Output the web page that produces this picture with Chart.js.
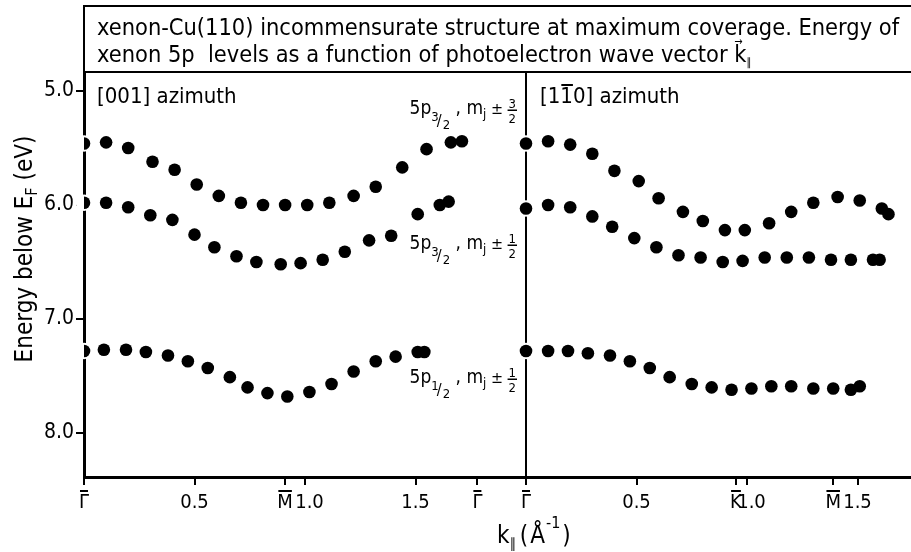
<!DOCTYPE html>
<html>
<head>
<meta charset="utf-8">
<script src="https://cdn.jsdelivr.net/npm/chart.js@4.4.1/dist/chart.umd.min.js"></script>
<style>
  html, body { margin: 0; padding: 0; background: #fff; }
  #wrap { position: relative; width: 911px; height: 552px; }
</style>
</head>
<body>
<div id="wrap"><canvas id="bands"></canvas></div>
<script>
// k|| (1/Å) and energy below E_F (eV).
// [001] azimuth
const k001Upper = [0.00, 0.10, 0.20, 0.31, 0.41, 0.51, 0.61, 0.71, 0.81, 0.91, 1.01, 1.11, 1.22, 1.32, 1.44, 1.55, 1.66, 1.71];
const e001Upper = [5.46, 5.45, 5.50, 5.62, 5.69, 5.82, 5.92, 5.98, 6.00, 6.00, 6.00, 5.98, 5.92, 5.84, 5.67, 5.51, 5.45, 5.44];
const k001Middle = [0.00, 0.10, 0.20, 0.30, 0.40, 0.50, 0.59, 0.69, 0.78, 0.89, 0.98, 1.08, 1.18, 1.29, 1.39, 1.51, 1.61, 1.65];
const e001Middle = [5.98, 5.98, 6.02, 6.09, 6.13, 6.26, 6.37, 6.45, 6.50, 6.52, 6.51, 6.48, 6.41, 6.31, 6.27, 6.08, 6.00, 5.97];
const k001Lower = [0.00, 0.09, 0.19, 0.28, 0.38, 0.47, 0.56, 0.66, 0.74, 0.83, 0.92, 1.02, 1.12, 1.22, 1.32, 1.41, 1.51, 1.54];
const e001Lower = [7.28, 7.27, 7.27, 7.29, 7.32, 7.37, 7.43, 7.51, 7.60, 7.65, 7.68, 7.64, 7.57, 7.46, 7.37, 7.33, 7.29, 7.29];

// [1-10] azimuth
const k110Upper = [0.00, 0.10, 0.20, 0.30, 0.40, 0.51, 0.60, 0.71, 0.80, 0.90, 0.99, 1.10, 1.20, 1.30, 1.41, 1.51, 1.61, 1.64];
const e110Upper = [5.46, 5.44, 5.47, 5.55, 5.70, 5.79, 5.94, 6.06, 6.14, 6.22, 6.22, 6.16, 6.06, 5.98, 5.93, 5.96, 6.03, 6.08];
const k110Middle = [0.00, 0.10, 0.20, 0.30, 0.39, 0.49, 0.59, 0.69, 0.79, 0.89, 0.98, 1.08, 1.18, 1.28, 1.38, 1.47, 1.57, 1.60];
const e110Middle = [6.03, 6.00, 6.02, 6.10, 6.19, 6.29, 6.37, 6.44, 6.46, 6.50, 6.49, 6.46, 6.46, 6.46, 6.48, 6.48, 6.48, 6.48];
const k110Lower = [0.00, 0.10, 0.19, 0.28, 0.38, 0.47, 0.56, 0.65, 0.75, 0.84, 0.93, 1.02, 1.11, 1.20, 1.30, 1.39, 1.47, 1.51];
const e110Lower = [7.28, 7.28, 7.28, 7.30, 7.32, 7.37, 7.43, 7.51, 7.57, 7.60, 7.62, 7.61, 7.59, 7.59, 7.61, 7.61, 7.62, 7.59];

// tick marks on the k axis of each panel (letters are symmetry points, drawn with a bar)
// the en space keeps "1.0" clear of the letter printed just left of it
const kTicks001 = [0, 0.5, 0.91, 1.0, 1.5, 1.78];
const kLabels001 = ['\u0393', '0.5', 'M', '\u20021.0', '1.5', '\u0393'];
const kTicks110 = [0, 0.5, 0.95, 1.0, 1.39, 1.5];
const kLabels110 = ['\u0393', '0.5', 'K', '\u20021.0', 'M', '1.5'];
const eTicks = [5.0, 6.0, 7.0, 8.0];

// the two panels share one k axis, [1-10] starts where [001] ends
const SPLIT = 2.0;
const K_END = SPLIT + 1.742;
const FONT = "'DejaVu Sans Condensed', 'Liberation Sans Narrow', 'DejaVu Sans', sans-serif";

Chart.defaults.font.family = FONT;
Chart.defaults.color = '#000';

function points(k, e, shift) {
    return k.map((v, i) => ({ x: v + shift, y: e[i] }));
}

function dots(data) {
    return {
        data: data,
        backgroundColor: '#000',
        borderWidth: 0,
        pointRadius: 6.3,
        pointHoverRadius: 6.3
    };
}

const allTicks = kTicks001.concat(kTicks110.map(v => v + SPLIT));
const allLabels = kLabels001.concat(kLabels110);

function drawLevel(ctx, right, base, jNum, mNum) {
    // "5p_{j/2} , m_j ± m/2", right aligned next to the divider
    const big = '19px ' + FONT, small = '13px ' + FONT, mid = '16px ' + FONT;
    ctx.font = big; const w5p = ctx.measureText('5p').width;
    const wComma = ctx.measureText(' , ').width;
    const wm = ctx.measureText('m').width;
    ctx.font = small; const wj = ctx.measureText(jNum).width;
    const w2 = ctx.measureText('2').width, wjj = ctx.measureText('j').width;
    const wn = ctx.measureText(mNum).width;
    ctx.font = mid; const wpm = ctx.measureText(' \u00b1 ').width;
    const wFrac = Math.max(wn, w2) + 2;
    const total = w5p + wj + 4 + w2 + wComma + wm + wjj + wpm + wFrac;
    let x = right - total;
    ctx.textAlign = 'left';
    ctx.font = big; ctx.fillText('5p', x, base); x += w5p;
    ctx.font = small; ctx.fillText(jNum, x, base + 7); x += wj;
    ctx.font = mid; ctx.fillText('/', x - 2, base + 12); x += 4;
    ctx.font = small; ctx.fillText('2', x, base + 15); x += w2;
    ctx.font = big; ctx.fillText(' , ', x, base); x += wComma;
    ctx.fillText('m', x, base); x += wm;
    ctx.font = small; ctx.fillText('j', x, base + 4); x += wjj;
    ctx.font = mid; ctx.fillText(' \u00b1 ', x, base); x += wpm;
    ctx.font = small;
    ctx.textAlign = 'center';
    ctx.fillText(mNum, x + wFrac / 2, base - 6);
    ctx.fillText('2', x + wFrac / 2, base + 9);
    ctx.fillRect(x, base - 4.5, wFrac, 1.5);
    ctx.textAlign = 'left';
}

const decorations = {
    id: 'decorations',
    beforeDatasetsDraw(chart) {
        const { ctx, chartArea, scales } = chart;
        ctx.save();
        // panel divider
        const xs = Math.round(scales.x.getPixelForValue(SPLIT));
        ctx.fillStyle = '#000';
        ctx.fillRect(xs - 1, chartArea.top, 2, chartArea.bottom - chartArea.top);
        // white halo round every dot, as in the print
        ctx.fillStyle = '#fff';
        chart.data.datasets.forEach((ds, i) => {
            chart.getDatasetMeta(i).data.forEach(pt => {
                ctx.beginPath();
                ctx.arc(pt.x, pt.y, 8.3, 0, Math.PI * 2);
                ctx.fill();
            });
        });
        ctx.restore();
    },
    afterDraw(chart) {
        const { ctx, chartArea, scales } = chart;
        const left = chartArea.left, right = chart.width;
        ctx.save();
        ctx.fillStyle = '#000';
        // title box
        ctx.fillRect(left - 1, 5, right - left + 1, 2);
        ctx.fillRect(left - 1, 5, 2, chartArea.top - 5);
        ctx.fillRect(left - 1, chartArea.top - 1, right - left + 1, 2);

        // bars over the symmetry point letters
        ctx.font = '20px ' + FONT;
        allLabels.forEach((lab, i) => {
            if (!/^[A-Z\u0393]$/.test(lab)) return;
            const cx = scales.x.getPixelForValue(allTicks[i]);
            const w = ctx.measureText(lab).width;
            ctx.fillRect(cx - w / 2 + 1, chartArea.bottom + 13, w - 2, 2);
        });

        // title text, sized to the printed line length
        const line1 = 'xenon-Cu(110) incommensurate structure at maximum coverage. Energy of';
        const line2 = 'xenon 5p  levels as a function of photoelectron wave vector ';
        ctx.font = '22px ' + FONT;
        const size = 22 * 801 / ctx.measureText(line1).width;
        ctx.font = size.toFixed(1) + 'px ' + FONT;
        ctx.textAlign = 'left';
        ctx.textBaseline = 'alphabetic';
        ctx.fillText(line1, 97, 35);
        ctx.fillText(line2, 97, 62);
        const kx = 97 + ctx.measureText(line2).width;
        ctx.fillText('k', kx, 62);
        const kw = ctx.measureText('k').width;
        ctx.font = '11px ' + FONT;
        ctx.fillText('\u2192', kx, 45);
        ctx.fillText('\u2225', kx + kw, 66);

        // panel names
        ctx.font = '22px ' + FONT;
        ctx.fillText('[001] azimuth', 97, 103);
        const x0 = scales.x.getPixelForValue(SPLIT) + 14;
        ctx.fillText('[1', x0, 103);
        const wa = ctx.measureText('[1').width, w1 = ctx.measureText('1').width;
        ctx.fillText('1', x0 + wa, 103);
        ctx.fillRect(x0 + wa + 1, 84, w1 - 1, 2);
        ctx.fillText('0] azimuth', x0 + wa + w1, 103);

        // level labels
        const xr = scales.x.getPixelForValue(SPLIT) - 9;
        drawLevel(ctx, xr, 114, '3', '3');
        drawLevel(ctx, xr, 249, '3', '1');
        drawLevel(ctx, xr, 383, '1', '1');

        // y axis title
        ctx.save();
        ctx.translate(32, 249);
        ctx.rotate(-Math.PI / 2);
        ctx.font = '24px ' + FONT;
        const a = 'Energy below E', b = ' (eV)';
        const wA = ctx.measureText(a).width, wB = ctx.measureText(b).width;
        ctx.font = '16px ' + FONT;
        const wF = ctx.measureText('F').width;
        let tx = -(wA + wF + wB) / 2;
        ctx.font = '24px ' + FONT;
        ctx.fillText(a, tx, 0); tx += wA;
        ctx.font = '16px ' + FONT;
        ctx.fillText('F', tx, 5); tx += wF;
        ctx.font = '24px ' + FONT;
        ctx.fillText(b, tx, 0);
        ctx.restore();

        // k axis title
        let px = 497;
        ctx.font = '24px ' + FONT;
        ctx.fillText('k', px, 543); px += ctx.measureText('k').width;
        ctx.font = '14px ' + FONT;
        ctx.fillText('\u2225', px, 548); px += ctx.measureText('\u2225').width + 4;
        ctx.font = '24px ' + FONT;
        ctx.fillText('(', px, 543); px += ctx.measureText('(').width + 2;
        ctx.fillText('\u00c5', px, 543); px += ctx.measureText('\u00c5').width + 1;
        ctx.font = '16px ' + FONT;
        ctx.fillText('-1', px, 528); px += ctx.measureText('-1').width + 2;
        ctx.font = '24px ' + FONT;
        ctx.fillText(')', px, 543);
        ctx.restore();
    }
};

new Chart(document.getElementById('bands'), {
    type: 'scatter',
    data: {
        datasets: [
            dots(points(k001Upper, e001Upper, 0)),
            dots(points(k001Middle, e001Middle, 0)),
            dots(points(k001Lower, e001Lower, 0)),
            dots(points(k110Upper, e110Upper, SPLIT)),
            dots(points(k110Middle, e110Middle, SPLIT)),
            dots(points(k110Lower, e110Lower, SPLIT))
        ]
    },
    options: {
        responsive: true,
        maintainAspectRatio: false,
        animation: false,
        devicePixelRatio: 1,
        layout: { autoPadding: false, padding: { top: 72, right: 0, bottom: 0, left: 0 } },
        plugins: {
            legend: { display: false },
            tooltip: { enabled: false }
        },
        scales: {
            x: {
                type: 'linear',
                min: 0,
                max: K_END,
                afterBuildTicks: scale => { scale.ticks = allTicks.map(v => ({ value: v })); },
                afterFit: scale => { scale.height = 75; },
                ticks: {
                    autoSkip: false,
                    maxRotation: 0,
                    padding: 6,
                    font: { size: 20 },
                    color: '#000',
                    callback: (value, index) => allLabels[index]
                },
                grid: { drawOnChartArea: false, drawTicks: true, tickLength: 8, color: '#000', lineWidth: 2 },
                border: { display: true, color: '#000', width: 3 }
            },
            y: {
                type: 'linear',
                reverse: true,
                min: 4.833,
                max: 8.386,
                afterBuildTicks: scale => { scale.ticks = eTicks.map(v => ({ value: v })); },
                afterFit: scale => { scale.width = 84; },
                ticks: {
                    padding: 2,
                    font: { size: 21 },
                    color: '#000',
                    callback: value => value.toFixed(1)
                },
                grid: { drawOnChartArea: false, drawTicks: true, tickLength: 8, color: '#000', lineWidth: 2 },
                border: { display: true, color: '#000', width: 3 }
            }
        }
    },
    plugins: [decorations]
});
</script>
</body>
</html>
